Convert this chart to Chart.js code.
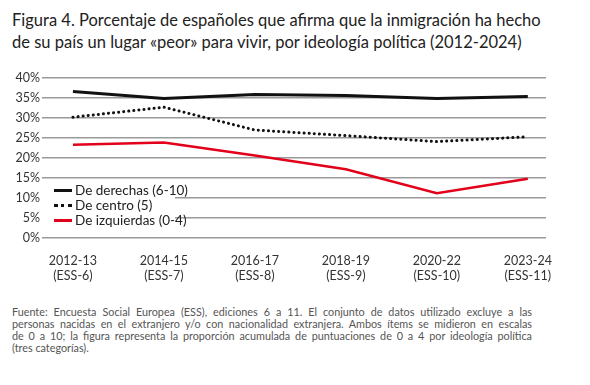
<!DOCTYPE html>
<html lang="es">
<head>
    <meta charset="UTF-8">
    <title>Figura 4</title>
    <script src="https://cdn.jsdelivr.net/npm/chart.js@4.4.0/dist/chart.umd.min.js"></script>
    <style>
        body { margin: 0; width: 590px; height: 385px; background: #fff; font-family: Lato, sans-serif; color: #222; position: relative; overflow: hidden; }
        #title { position: absolute; left: 12px; top: 9px; font-size: 16.5px; line-height: 22px; color: #222; }
        #wrap { position: absolute; left: 0; top: 60px; width: 590px; height: 230px; }
        #legend { position: absolute; left: 42px; top: 182px; width: 133px; height: 46px; background: #fff; font-size: 13.5px; color: #222; }
        .item { position: absolute; left: 12px; height: 15px; line-height: 15px; }
        .item span.sample { position: absolute; left: 0; top: 6px; width: 18px; border-top: 3px solid #111; }
        .item span.txt { position: absolute; left: 21px; white-space: nowrap; }
        #note { position: absolute; left: 12px; top: 306px; width: 520px; font-size: 10.8px; line-height: 11.9px; color: #555; }
        #note div { white-space: nowrap; }
        #note div.j { white-space: normal; text-align: justify; text-align-last: justify; }
    </style>
</head>
<body>

    <div id="title">Figura 4. Porcentaje de españoles que afirma que la inmigración ha hecho<br>de su país un lugar «peor» para vivir, por ideología política (2012-2024)</div>

    <div id="wrap"><canvas id="chart"></canvas></div>

    <!-- legend sits inside the plot, over the grid -->
    <div id="legend">
        <div class="item" style="top:1px"><span class="sample"></span><span class="txt">De derechas (6-10)</span></div>
        <div class="item" style="top:16px"><span class="sample" style="border-top:3px dotted #111"></span><span class="txt">De centro (5)</span></div>
        <div class="item" style="top:31px"><span class="sample" style="border-top-color:#e2001a"></span><span class="txt">De izquierdas (0-4)</span></div>
    </div>

    <div id="note">
        <div class="j">Fuente: Encuesta Social Europea (ESS), ediciones 6 a 11. El conjunto de datos utilizado excluye a las</div>
        <div class="j">personas nacidas en el extranjero y/o con nacionalidad extranjera. Ambos ítems se midieron en escalas</div>
        <div class="j">de 0 a 10; la figura representa la proporción acumulada de puntuaciones de 0 a 4 por ideología política</div>
        <div>(tres categorías).</div>
    </div>

    <script>
        // Data
        const years = ['2012-13', '2014-15', '2016-17', '2018-19', '2020-22', '2023-24'];
        const waves = ['(ESS-6)', '(ESS-7)', '(ESS-8)', '(ESS-9)', '(ESS-10)', '(ESS-11)'];
        const derechas = [36.6, 34.9, 35.9, 35.6, 34.9, 35.4];
        const centro = [30.2, 32.7, 27.0, 25.6, 24.1, 25.3];
        const izquierdas = [23.3, 23.9, 20.6, 17.2, 11.2, 14.8];
        const yTicks = [0, 5, 10, 15, 20, 25, 30, 35, 40];

        const pts = arr => arr.map((v, i) => ({ x: i, y: v }));

        new Chart(document.getElementById('chart'), {
            type: 'line',
            data: {
                datasets: [
                    { label: 'De derechas (6-10)', data: pts(derechas), borderColor: '#111', borderWidth: 3, pointRadius: 0 },
                    { label: 'De centro (5)', data: pts(centro), borderColor: '#111', borderWidth: 3, borderDash: [0.1, 5], borderCapStyle: 'round', pointRadius: 0 },
                    { label: 'De izquierdas (0-4)', data: pts(izquierdas), borderColor: '#e2001a', borderWidth: 2.5, pointRadius: 0 }
                ]
            },
            options: {
                responsive: true,
                maintainAspectRatio: false,
                animation: false,
                layout: { padding: { top: 18, right: 44, left: 0, bottom: 0 } },
                plugins: { legend: { display: false }, tooltip: { enabled: false } },
                scales: {
                    x: {
                        type: 'linear',
                        min: -0.34,
                        max: 5.2,
                        grid: { display: false },
                        border: { display: false },
                        afterBuildTicks: s => { s.ticks = years.map((_, i) => ({ value: i })); },
                        ticks: {
                            autoSkip: false,
                            maxRotation: 0,
                            padding: 7,
                            color: '#333',
                            font: { family: 'Lato', size: 12.5 },
                            callback: v => [years[v], waves[v]]
                        },
                        afterFit: s => { s.height = 52; }
                    },
                    y: {
                        min: 0,
                        max: 40,
                        afterBuildTicks: s => { s.ticks = yTicks.map(v => ({ value: v })); },
                        grid: { color: '#9a9a9a', lineWidth: 1.5, drawTicks: false },
                        border: { display: false },
                        ticks: {
                            padding: 2,
                            color: '#333',
                            font: { family: 'Lato', size: 12.5 },
                            callback: v => v + '%'
                        },
                        afterFit: s => { s.width = 42; }
                    }
                }
            }
        });
    </script>
</body>
</html>
